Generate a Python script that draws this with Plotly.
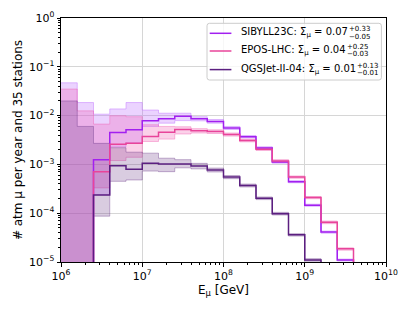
import plotly.graph_objects as go

# ---------------- data ----------------
log_edges = [6.0 + 0.2 * i for i in range(21)]          # 10^6 ... 10^10 GeV, 0.2 dex bins
edges = [10 ** e for e in log_edges]
FLOOR = 1e-7  # stands in for zero on the log axis

sibyll = [0, 0, 1.25e-3, 4.5e-3, 5.1e-3, 7.8e-3, 8.6e-3, 9.7e-3, 8.6e-3, 7.6e-3,
          5.6e-3, 3.7e-3, 2.18e-3, 1.12e-3, 4.4e-4, 1.46e-4, 4.1e-5, 1.1e-5, 0, 0]
sibyll_lo = [0, 0, 2.4e-4, 2.3e-3, 2.8e-3, 6.0e-3, 7.0e-3, 7.9e-3, 7.8e-3, 7.0e-3,
             5.2e-3, 3.5e-3, 2.05e-3, 1.06e-3, 4.2e-4, 1.39e-4, 3.9e-5, 1.05e-5, 0, 0]
sibyll_hi = [0.047, 0.0185, 0.0107, 0.0137, 0.0185, 0.013, 0.0112, 0.0112, 0.0095, 0.0083,
             6.0e-3, 3.9e-3, 2.3e-3, 1.18e-3, 4.65e-4, 1.53e-4, 4.3e-5, 1.15e-5, 0, 0]

epos = [0, 0, 7.1e-4, 2.6e-3, 2.7e-3, 3.75e-3, 4.57e-3, 5.2e-3, 4.9e-3, 4.7e-3,
        4.1e-3, 3.08e-3, 2.05e-3, 1.18e-3, 5.5e-4, 2.09e-4, 6.5e-5, 1.86e-5, 0, 0]
epos_lo = [0, 0, 3.3e-4, 1.2e-3, 1.4e-3, 2.95e-3, 3.3e-3, 4.2e-3, 4.4e-3, 4.3e-3,
           3.8e-3, 2.9e-3, 1.93e-3, 1.1e-3, 5.2e-4, 1.98e-4, 6.1e-5, 1.75e-5, 0, 0]
epos_hi = [0.035, 0.0125, 0.0067, 0.0099, 0.0095, 0.0065, 0.006, 0.0059, 0.0054, 0.0051,
           4.4e-3, 3.3e-3, 2.2e-3, 1.25e-3, 5.8e-4, 2.2e-4, 6.9e-5, 1.95e-5, 0, 0]

qgs = [0, 0, 2.35e-4, 9.4e-4, 8.0e-4, 1.05e-3, 1.02e-3, 1.02e-3, 9.3e-4, 7.7e-4,
       5.5e-4, 3.7e-4, 2.03e-4, 9.8e-5, 3.6e-5, 1.1e-5, 0, 0, 0, 0]
qgs_lo = [0, 0, 8.7e-5, 4.5e-4, 4.8e-4, 7.3e-4, 7.1e-4, 8.5e-4, 8.1e-4, 7.0e-4,
          5.1e-4, 3.45e-4, 1.9e-4, 9.2e-5, 3.4e-5, 1.04e-5, 0, 0, 0, 0]
qgs_hi = [0.020, 0.006, 0.0027, 0.0022, 0.00178, 0.0017, 0.00134, 0.00125, 0.00105, 8.4e-4,
          5.9e-4, 3.95e-4, 2.15e-4, 1.04e-4, 3.8e-5, 1.17e-5, 0, 0, 0, 0]

models = ["SIBYLL23C", "EPOS-LHC", "QGSJet-II-04"]
sigma_val = ["0.07", "0.04", "0.01"]
sigma_up = ["+0.33", "+0.25", "+0.13"]
sigma_dn = ["\u22120.05", "\u22120.03", "\u22120.01"]

x_tick_exp = [6, 7, 8, 9, 10]
y_tick_exp = [-5, -4, -3, -2, -1, 0]

# ---------------- style ----------------
line_colors = ["#a21ff0", "#e8449a", "#5b1f80"]
fill_colors = ["rgba(190,110,255,0.30)", "rgba(240,90,175,0.28)", "rgba(95,40,125,0.24)"]
edge_colors = ["rgba(190,110,255,0.45)", "rgba(240,90,175,0.40)", "rgba(95,40,125,0.35)"]
FONT = "DejaVu Sans"

OFF = 8                       # page body margin of the html page
W, H = 413 - OFF, 310 - OFF
PL, PR, PT, PB = 61.3, 386.3, 18.0, 262.0   # plot box in window pixels
L, T = PL - OFF, PT - OFF
R, B = W - (PR - OFF), H - (PB - OFF)
pw, ph = PR - PL, PB - PT


def px(x):
    return (x - PL) / pw


def py(y):
    return (PB - y) / ph


def stepvals(v):
    v = [max(a, FLOOR) for a in v]
    return v + [v[-1]]


fig = go.Figure()

series = [(sibyll, sibyll_lo, sibyll_hi), (epos, epos_lo, epos_hi), (qgs, qgs_lo, qgs_hi)]

# bands
for i, (c, lo, hi) in enumerate(series):
    fig.add_trace(go.Scatter(x=edges, y=stepvals(hi), mode="lines", line_shape="hv",
                             line=dict(color=edge_colors[i], width=1), showlegend=False,
                             hoverinfo="skip"))
    fig.add_trace(go.Scatter(x=edges, y=stepvals(lo), mode="lines", line_shape="hv",
                             line=dict(color=edge_colors[i], width=1), fill="tonexty",
                             fillcolor=fill_colors[i], showlegend=False, hoverinfo="skip"))

# central lines
for i, (c, lo, hi) in enumerate(series):
    fig.add_trace(go.Scatter(x=edges, y=stepvals(c), mode="lines", line_shape="hv",
                             line=dict(color=line_colors[i], width=1.5), name=models[i],
                             showlegend=False))

minor_x = [m * 10 ** e for e in range(6, 10) for m in range(2, 10)]
minor_y = [m * 10 ** e for e in range(-5, 0) for m in range(2, 10)]

axis_common = dict(type="log", showline=True, linecolor="black", linewidth=1, mirror=True,
                   ticks="outside", ticklen=3.5, tickwidth=1, tickcolor="black",
                   showgrid=True, gridcolor="#d6d6d6", gridwidth=1, zeroline=False,
                   automargin=False,
                   tickfont=dict(family=FONT, size=11, color="black"))

fig.update_xaxes(**axis_common, range=[6, 10],
                 tickvals=[10 ** e for e in x_tick_exp],
                 ticktext=[f"10<sup>{e}</sup>" for e in x_tick_exp],
                 minor=dict(tickvals=minor_x, ticks="outside", ticklen=2, tickcolor="black",
                            showgrid=False),
                 title=dict(text="E<sub>\u03bc</sub> [GeV]", font=dict(family=FONT, size=12,
                                                                       color="black"),
                            standoff=3))
fig.update_yaxes(**axis_common, range=[-5, 0],
                 tickvals=[10 ** e for e in y_tick_exp],
                 ticktext=[f"10<sup>{str(e).replace('-', '\u2212')}</sup>" for e in y_tick_exp],
                 minor=dict(tickvals=minor_y, ticks="outside", ticklen=2, tickcolor="black",
                            showgrid=False),
                 title=dict(text="# atm \u03bc per year and 35 stations",
                            font=dict(family=FONT, size=12, color="black"), standoff=3))

# ---------------- legend (drawn by hand to stack the asymmetric errors) ----------------
bx0, bx1, by0, by1, rr = 207.3, 381.7, 23.3, 80.0, 2.5
path = (f"M{px(bx0 + rr)},{py(by0)} L{px(bx1 - rr)},{py(by0)} "
        f"Q{px(bx1)},{py(by0)} {px(bx1)},{py(by0 + rr)} L{px(bx1)},{py(by1 - rr)} "
        f"Q{px(bx1)},{py(by1)} {px(bx1 - rr)},{py(by1)} L{px(bx0 + rr)},{py(by1)} "
        f"Q{px(bx0)},{py(by1)} {px(bx0)},{py(by1 - rr)} L{px(bx0)},{py(by0 + rr)} "
        f"Q{px(bx0)},{py(by0)} {px(bx0 + rr)},{py(by0)} Z")
fig.add_shape(type="path", path=path, xref="paper", yref="paper",
              line=dict(color="#cccccc", width=1), fillcolor="rgba(255,255,255,0.8)",
              layer="above")

row_y = [33.3, 51.0, 69.6]
exp_x = [347.5, 345.5, 355.0]
for i in range(3):
    fig.add_shape(type="line", xref="paper", yref="paper", x0=px(210), x1=px(231.7),
                  y0=py(row_y[i]), y1=py(row_y[i]),
                  line=dict(color=line_colors[i], width=1.5), layer="above")
    fig.add_annotation(xref="paper", yref="paper", x=px(239.3), y=py(row_y[i] - 0.5),
                       xanchor="left", yanchor="middle", showarrow=False,
                       text=f"{models[i]}: \u03a3<sub>\u03bc</sub> = {sigma_val[i]}",
                       font=dict(family=FONT, size=10, color="black"))
    fig.add_annotation(xref="paper", yref="paper", x=px(exp_x[i]), y=py(row_y[i] - 3.9),
                       xanchor="left", yanchor="middle", showarrow=False, text=sigma_up[i],
                       font=dict(family=FONT, size=7, color="black"))
    fig.add_annotation(xref="paper", yref="paper", x=px(exp_x[i]), y=py(row_y[i] + 3.4),
                       xanchor="left", yanchor="middle", showarrow=False, text=sigma_dn[i],
                       font=dict(family=FONT, size=7, color="black"))

fig.update_layout(width=W, height=H, margin=dict(l=L, r=R, t=T, b=B),
                  paper_bgcolor="white", plot_bgcolor="white", showlegend=False,
                  font=dict(family=FONT, color="black"))

fig.write_html("out.html")
